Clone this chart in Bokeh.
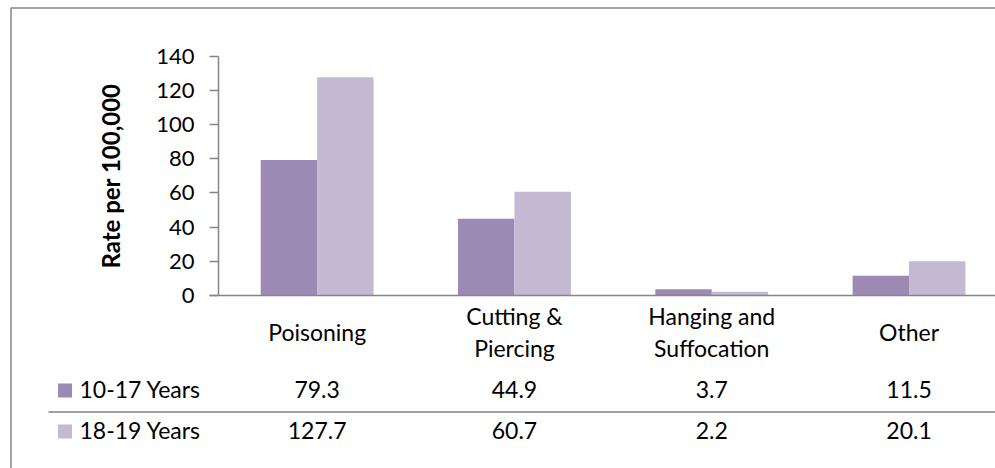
import numpy as np
from bokeh.plotting import figure
from bokeh.models import Range1d, LinearAxis, FixedTicker
from bokeh.core.properties import value
from bokeh.embed import file_html
from bokeh.resources import INLINE

# ---- data ----
categories = ["Poisoning", "Cutting &\nPiercing", "Hanging and\nSuffocation", "Other"]
series_names = ["10-17 Years", "18-19 Years"]
years_10_17 = [79.3, 44.9, 3.7, 11.5]
years_18_19 = [127.7, 60.7, 2.2, 20.1]
y_ticks = [0, 20, 40, 60, 80, 100, 120, 140]
colors = ["#9c89b4", "#c3b9d2"]

# ---- layout (pixels) ----
W, H = 995, 468
CAT_PX = 197.3          # pixels per category
Y_PX = 1.7093           # pixels per unit
AXIS_PAGE_X = 218       # page x of the value axis
ZERO_PAGE_Y = 295       # page y of value 0


def px_x(page_x):
    return (page_x - AXIS_PAGE_X) / CAT_PX


def px_y(page_y):
    return (ZERO_PAGE_Y - page_y) / Y_PX


x_start, x_end = px_x(0), px_x(W)
y_end, y_start = px_y(0), px_y(H)

FONT = value("Lato")
GRAY = "#868686"
FS = "23px"

p = figure(width=W, height=H, x_range=Range1d(x_start, x_end), y_range=Range1d(y_start, y_end),
           x_axis_type=None, y_axis_type=None, toolbar_location=None, output_backend="svg",
           min_border=0, outline_line_color=None, background_fill_color="white",
           border_fill_color="white")

yaxis = LinearAxis(fixed_location=0, bounds=(0, 140), ticker=FixedTicker(ticks=y_ticks),
                   axis_line_color=GRAY, axis_line_width=1.5,
                   major_tick_line_color=GRAY, major_tick_line_width=1.5,
                   major_tick_out=9, major_tick_in=0, minor_tick_out=0, minor_tick_in=0,
                   major_label_text_font="Lato", major_label_text_font_size="22px",
                   major_label_text_color="#000000", major_label_standoff=15,
                   axis_label="Rate per 100,000", axis_label_text_font="Lato",
                   axis_label_text_font_style="bold", axis_label_text_font_size="24px",
                   axis_label_text_color="#000000", axis_label_standoff=28)
p.add_layout(yaxis, "left")

idx = np.arange(len(categories))
bw = 0.286
p.vbar(x=idx + 0.5 - bw / 2, width=bw, top=years_10_17, bottom=0,
       fill_color=colors[0], line_color=None)
p.vbar(x=idx + 0.5 + bw / 2, width=bw, top=years_18_19, bottom=0,
       fill_color=colors[1], line_color=None)

# category baseline
p.segment(x0=[px_x(209)], y0=[0], x1=[x_end], y1=[0], line_color=GRAY, line_width=1.5)

# data table
p.text(x=idx + 0.5, y=[px_y(331.5)] * len(categories), text=categories,
       text_align="center", text_baseline="middle", text_font=FONT,
       text_font_size=FS, text_line_height=1.15, text_color="#000000")
row_y = [px_y(388.5), px_y(429.5)]
for series, ry in zip([years_10_17, years_18_19], row_y):
    p.text(x=idx + 0.5, y=[ry] * len(series), text=[f"{v:.1f}" for v in series],
           text_align="center", text_baseline="middle", text_font=FONT,
           text_font_size=FS, text_color="#000000")
p.text(x=[px_x(79)] * 2, y=row_y, text=series_names, text_align="left",
       text_baseline="middle", text_font=FONT, text_font_size=FS, text_color="#000000")
p.scatter(x=[px_x(64.5)] * 2, y=[px_y(390), px_y(431)], marker="square", size=14,
          fill_color=colors, line_color=None)
p.segment(x0=[px_x(48)], y0=[px_y(411.5)], x1=[x_end], y1=[px_y(411.5)],
          line_color="#a0a0a0", line_width=2)

# chart border (left and top)
p.line(x=[px_x(10.5), px_x(10.5), x_end], y=[y_start, px_y(7.5), px_y(7.5)],
       line_color=GRAY, line_width=1.5)

open("out.html", "w").write(file_html(p, INLINE))
